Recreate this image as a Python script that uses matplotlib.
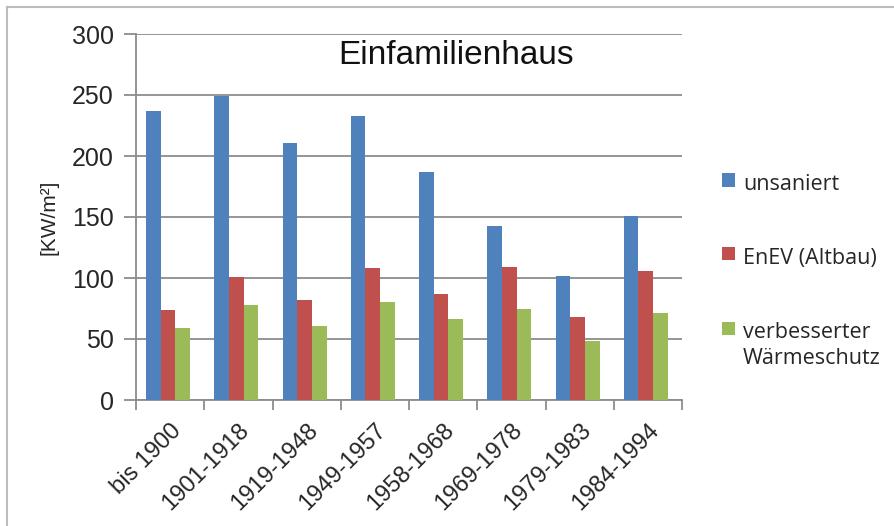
import matplotlib
matplotlib.use("Agg")
import matplotlib.pyplot as plt
import numpy as np
from matplotlib.lines import Line2D
from matplotlib.patches import Rectangle

# data
periods = ["bis 1900", "1901-1918", "1919-1948", "1949-1957",
           "1958-1968", "1969-1978", "1979-1983", "1984-1994"]
unsaniert = [237, 249, 211, 233, 187, 143, 102, 151]
enev_altbau = [74, 101, 82, 108, 87, 109, 68, 106]
waermeschutz = [59, 78, 61, 80, 66, 75, 48, 71]

series_names = ["unsaniert", "EnEV (Altbau)", "verbesserter\nWärmeschutz"]
series_colors = ["#4F81BD", "#C0504D", "#9BBB59"]

W, H = 894, 526
fig = plt.figure(figsize=(W / 100, H / 100), dpi=100)
fig.patch.set_facecolor("white")

# outer chart frame: only the top and left edge are visible in the reference
fx, fy = 7 / W, 1 - 7 / H
fig.add_artist(Line2D([fx, 1], [fy, fy], transform=fig.transFigure,
                      color="#BDBDBD", linewidth=1.5))
fig.add_artist(Line2D([fx, fx], [0, fy], transform=fig.transFigure,
                      color="#BDBDBD", linewidth=1.5))

ax = fig.add_axes([136 / W, 1 - 400 / H, (682 - 136) / W, (400 - 34) / H])

x = np.arange(len(periods))
w = 0.215
for i, (vals, col) in enumerate(zip([unsaniert, enev_altbau, waermeschutz], series_colors)):
    ax.bar(x + (i - 1) * w - 0.03, vals, width=w, color=col, zorder=3)

ax.set_xlim(-0.5, len(periods) - 0.5)
ax.set_ylim(0, 300)
ax.set_yticks(np.arange(0, 301, 50))
ax.yaxis.grid(True, color="#8C8C8C", linewidth=1.3, zorder=0)
ax.set_axisbelow(True)

ax.spines["right"].set_visible(False)
ax.spines["top"].set_visible(False)
for side in ["left", "bottom"]:
    ax.spines[side].set_color("#8C8C8C")
    ax.spines[side].set_linewidth(1.3)

ax.set_xticks(x)
ax.set_xticklabels(periods, rotation=45, ha="right", rotation_mode="anchor",
                   fontsize=17, family="Liberation Sans", color="#262626")
ax.set_xticks(np.arange(-0.5, len(periods)), minor=True)
ax.tick_params(axis="x", which="major", length=0, pad=14)
ax.tick_params(axis="x", which="minor", length=7, width=1.3, color="#8C8C8C")
ax.tick_params(axis="y", length=9, width=1.3, color="#8C8C8C", pad=7,
               labelsize=18, labelcolor="#262626")
for lab in ax.get_yticklabels():
    lab.set_family("Liberation Sans")

ax.set_ylabel("[KW/m²]", fontsize=15, family="Liberation Sans", color="#262626")
ax.yaxis.set_label_coords(-78 / (682 - 136), 0.5)

fig.text(456 / W, 1 - 56 / H, "Einfamilienhaus", ha="center", va="center",
         fontsize=24, family="Liberation Sans", color="#111111")

# legend drawn by hand so the marker sits beside the first text line
leg_y = [180, 254, 328]
for name, col, yc in zip(series_names, series_colors, leg_y):
    fig.add_artist(Rectangle((722 / W, 1 - (yc + 6.5) / H), 13 / W, 13 / H,
                             transform=fig.transFigure, facecolor=col, edgecolor="none"))
    for k, line in enumerate(name.split("\n")):
        fig.text(743 / W, 1 - (yc + 10 + 26 * k) / H, line, ha="left", va="baseline",
                 fontsize=15.5, family="Open Sans", color="#262626")

fig.savefig("out.png", dpi=100, facecolor="white")
